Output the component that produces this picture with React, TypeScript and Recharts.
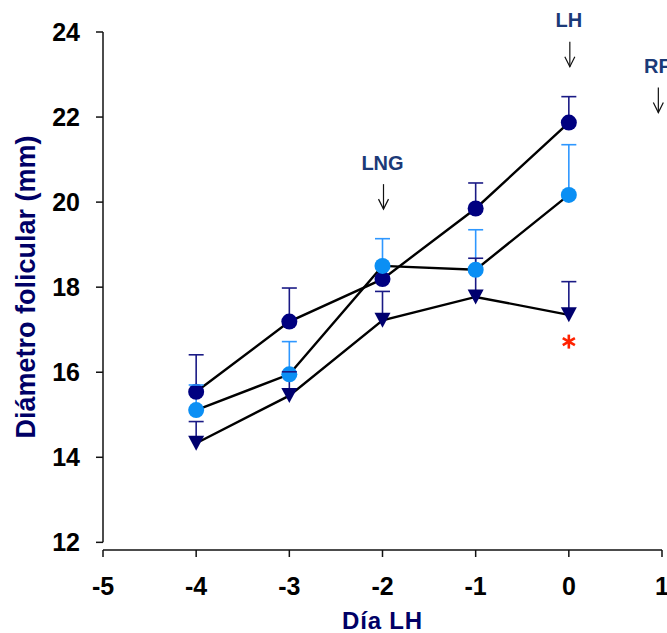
import React from 'react';
import { ComposedChart, Line, XAxis, YAxis, ErrorBar, ReferenceLine, ReferenceDot } from 'recharts';

const days = [-4, -3, -2, -1, 0];
const seriesA = [15.54, 17.19, 18.19, 19.85, 21.87];
const errA = [0.87, 0.79, 0.35, 0.6, 0.61];
const seriesB = [15.11, 15.95, 18.5, 18.41, 20.17];
const errB = [0.59, 0.77, 0.64, 0.94, 1.18];
const seriesC = [14.33, 15.45, 17.22, 17.77, 17.35];
const errC = [0.51, 0.56, 0.68, 0.91, 0.78];
const xTicks = [-5, -4, -3, -2, -1, 0, 1];
const yTicks = [12, 14, 16, 18, 20, 22, 24];
const annotations = [
  { x: -2, y: 20.94, label: 'LNG' },
  { x: 0, y: 24.29, label: 'LH' },
  { x: 0.95, y: 23.21, label: 'RF' },
];
const significance = [{ x: 0, y: 16.72 }];

const data = days.map((d, i) => ({
  x: d,
  a: seriesA[i],
  aErr: [0, errA[i]],
  aTop: seriesA[i] + errA[i],
  b: seriesB[i],
  bErr: [0, errB[i]],
  bTop: seriesB[i] + errB[i],
  c: seriesC[i],
  cErr: [0, errC[i]],
  cTop: seriesC[i] + errC[i],
}));

const DARK = '#000080';
const LIGHT = '#0B8FF4';
const TRI = '#00006E';
const ERR_DARK = '#1a1a85';
const ERR_LIGHT = '#2E97FF';
const FONT = '"Liberation Sans", Arial, sans-serif';

const circleDot = (color: string) => (p: any) => (
  <circle key={`c-${color}-${p.index}`} cx={p.cx} cy={p.cy} r={8} fill={color} stroke="none" />
);
const triangleDot = (p: any) => (
  <path
    key={`t-${p.index}`}
    d={`M${p.cx - 8},${p.cy - 7.5} L${p.cx + 8},${p.cy - 7.5} L${p.cx},${p.cy + 7.5} Z`}
    fill={TRI}
  />
);
const capDot = (color: string) => (p: any) => (
  <line
    key={`cap-${color}-${p.index}`}
    x1={p.cx - 7.5}
    x2={p.cx + 7.5}
    y1={p.cy}
    y2={p.cy}
    stroke={color}
    strokeWidth={1.6}
  />
);

const annotationShape = (label: string) => (p: any) => (
  <g>
    <text
      x={p.cx}
      y={p.cy + 7.5}
      textAnchor="middle"
      fontFamily={FONT}
      fontWeight="bold"
      fontSize={20}
      fill="#1b3a78"
    >
      {label}
    </text>
    <line x1={p.cx + 1} x2={p.cx + 1} y1={p.cy + 22} y2={p.cy + 47} stroke="#111" strokeWidth={1.2} />
    <polyline
      points={`${p.cx - 4},${p.cy + 37} ${p.cx + 1},${p.cy + 47} ${p.cx + 6},${p.cy + 37}`}
      fill="none"
      stroke="#111"
      strokeWidth={1.2}
    />
  </g>
);

const asteriskShape = (p: any) => {
  const r = 7;
  const lines = [90, 30, 150].map((deg) => {
    const rad = (deg * Math.PI) / 180;
    return (
      <line
        key={deg}
        x1={p.cx - r * Math.cos(rad)}
        y1={p.cy - r * Math.sin(rad)}
        x2={p.cx + r * Math.cos(rad)}
        y2={p.cy + r * Math.sin(rad)}
        stroke="#ff2200"
        strokeWidth={2.6}
      />
    );
  });
  return <g>{lines}</g>;
};

const xLabel = (props: any) => {
  const vb = props.viewBox;
  return (
    <text
      x={vb.x + vb.width / 2}
      y={vb.y + 79}
      textAnchor="middle"
      fontFamily={FONT}
      fontWeight="bold"
      fontSize={24}
      letterSpacing={0.8}
      fill="#000066"
    >
      Día LH
    </text>
  );
};

const yLabel = () => (
  <text
    x={35}
    y={287}
    transform="rotate(-90, 35, 287)"
    textAnchor="middle"
    fontFamily={FONT}
    fontWeight="bold"
    fontSize={27}
    fill="#000066"
  >
    Diámetro folicular (mm)
  </text>
);

const tickStyle = { fontFamily: FONT, fontWeight: 'bold', fontSize: 25, fill: '#000' } as any;

export default function App() {
  return (
    <div style={{ position: 'absolute', left: 0, top: 0, width: 667, height: 633, background: '#fff' }}>
      <ComposedChart width={667} height={633} data={data} margin={{ top: 32, right: 5, bottom: 0, left: 0 }}>
        <XAxis
          type="number"
          dataKey="x"
          domain={[-5, 1]}
          ticks={xTicks}
          interval={0}
          allowDataOverflow
          height={83}
          tickSize={7}
          tickMargin={20}
          axisLine={{ stroke: '#111', strokeWidth: 1.5 }}
          tickLine={{ stroke: '#111', strokeWidth: 1.5 }}
          tick={tickStyle}
          label={xLabel}
        />
        <YAxis
          type="number"
          domain={[11.82, 24]}
          ticks={yTicks}
          interval={0}
          allowDataOverflow
          width={103}
          tickSize={7}
          tickMargin={16}
          axisLine={false}
          tickLine={{ stroke: '#111', strokeWidth: 1.5 }}
          tick={tickStyle}
          label={yLabel}
        />
        <ReferenceLine
          segment={[{ x: -5, y: 12 }, { x: -5, y: 24 }]}
          stroke="#111"
          strokeWidth={1.5}
          ifOverflow="visible"
        />
        <Line
          dataKey="a"
          stroke="#000"
          strokeWidth={2.4}
          dot={circleDot(DARK)}
          activeDot={false}
          isAnimationActive={false}
        >
          <ErrorBar dataKey="aErr" direction="y" width={0} stroke={ERR_DARK} strokeWidth={1.6} />
        </Line>
        <Line dataKey="aTop" stroke="none" dot={capDot(ERR_DARK)} activeDot={false} isAnimationActive={false} />
        <Line
          dataKey="b"
          stroke="#000"
          strokeWidth={2.4}
          dot={circleDot(LIGHT)}
          activeDot={false}
          isAnimationActive={false}
        >
          <ErrorBar dataKey="bErr" direction="y" width={0} stroke={ERR_LIGHT} strokeWidth={1.6} />
        </Line>
        <Line dataKey="bTop" stroke="none" dot={capDot(ERR_LIGHT)} activeDot={false} isAnimationActive={false} />
        <Line
          dataKey="c"
          stroke="#000"
          strokeWidth={2.4}
          dot={triangleDot}
          activeDot={false}
          isAnimationActive={false}
        >
          <ErrorBar dataKey="cErr" direction="y" width={0} stroke={ERR_DARK} strokeWidth={1.6} />
        </Line>
        <Line dataKey="cTop" stroke="none" dot={capDot(ERR_DARK)} activeDot={false} isAnimationActive={false} />
        {annotations.map((a) => (
          <ReferenceDot
            key={a.label}
            x={a.x}
            y={a.y}
            r={0}
            ifOverflow="visible"
            shape={annotationShape(a.label)}
          />
        ))}
        {significance.map((s, i) => (
          <ReferenceDot key={`sig-${i}`} x={s.x} y={s.y} r={0} ifOverflow="visible" shape={asteriskShape} />
        ))}
      </ComposedChart>
    </div>
  );
}
